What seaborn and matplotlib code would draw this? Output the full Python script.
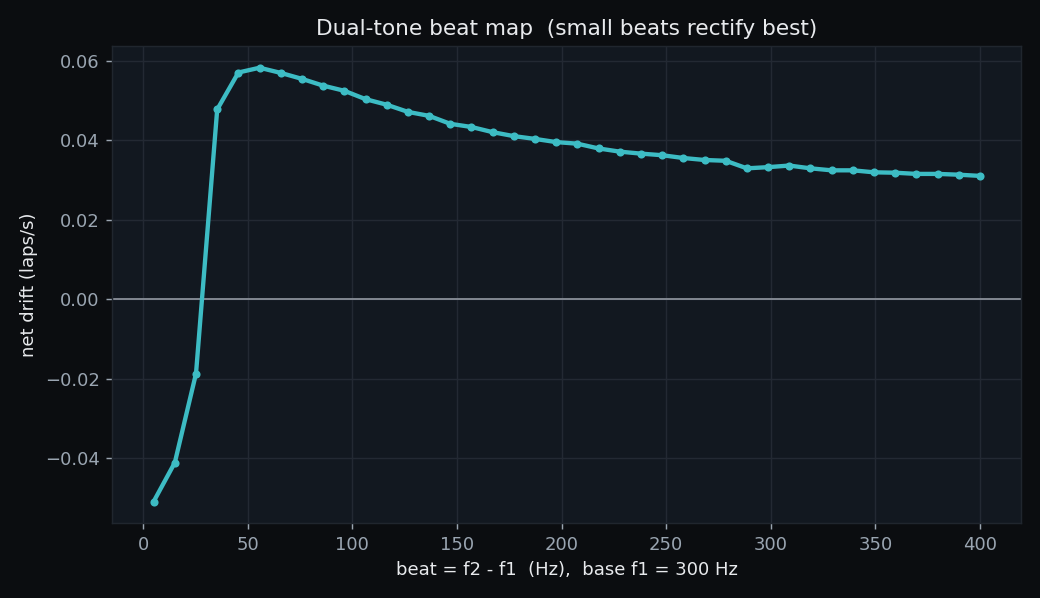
import numpy as np
import pandas as pd
import matplotlib
matplotlib.use("Agg")
import matplotlib.pyplot as plt
import seaborn as sns

# ---- data: beat frequency (Hz) vs net drift (laps/s) ----
beat_hz = np.linspace(5, 400, 40)
net_drift = [
    -0.0509, -0.0411, -0.0187, 0.0477, 0.0570, 0.0582, 0.0569, 0.0554,
    0.0537, 0.0524, 0.0503, 0.0489, 0.0471, 0.0461, 0.0441, 0.0433,
    0.0420, 0.0410, 0.0403, 0.0395, 0.0391, 0.0379, 0.0371, 0.0366,
    0.0362, 0.0355, 0.0350, 0.0348, 0.0329, 0.0332, 0.0336, 0.0329,
    0.0324, 0.0324, 0.0319, 0.0318, 0.0315, 0.0315, 0.0313, 0.0310,
]
df = pd.DataFrame({"beat": beat_hz, "drift": net_drift})

# ---- style ----
fig_bg = "#0b0d10"
ax_bg = "#121820"
grid_c = "#232933"
tick_c = "#9aa5b1"
text_c = "#e8eaed"
line_c = "#3dbcc4"

sns.set_theme(style="dark")
plt.rcParams["font.family"] = ["DejaVu Sans"]

fig, ax = plt.subplots(figsize=(8, 4.6), dpi=130)
fig.patch.set_facecolor(fig_bg)
ax.set_facecolor(ax_bg)

sns.lineplot(data=df, x="beat", y="drift", ax=ax, color=line_c,
             linewidth=2.4, marker="o", markersize=4.5, markeredgewidth=0)
ax.axhline(0, color="#8a9099", linewidth=1.0, zorder=1)

ax.grid(True, color=grid_c, linewidth=0.8)
ax.set_axisbelow(True)
for s in ax.spines.values():
    s.set_color("#20262e")
    s.set_linewidth(0.8)

ax.tick_params(colors=tick_c, labelsize=10, length=3.5, width=0.8, left=True, bottom=True)
ax.set_title("Dual-tone beat map  (small beats rectify best)", color=text_c, fontsize=12)
ax.set_xlabel("beat = f2 - f1  (Hz),  base f1 = 300 Hz", color=text_c, fontsize=10)
ax.set_ylabel("net drift (laps/s)", color=text_c, fontsize=10)

fig.subplots_adjust(left=0.108, right=0.982, top=0.923, bottom=0.125)
fig.savefig("out.png", facecolor=fig_bg)
